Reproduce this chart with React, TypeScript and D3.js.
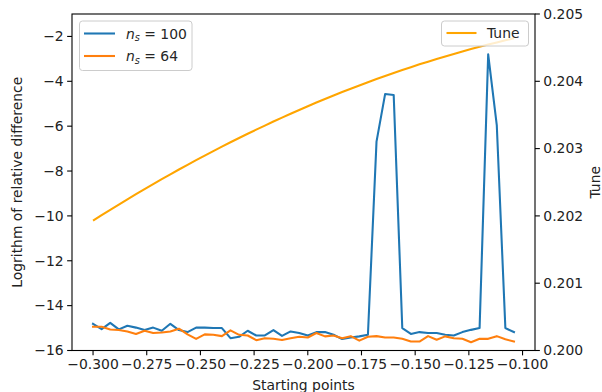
import React from "react";
import * as d3 from "d3";

const startPoints: number[] = d3.range(50).map((k) => -0.3 + 0.004 * k);

const ns100: number[] = [
  -14.81, -15.05, -14.77, -15.06, -14.9, -14.98, -15.09, -14.98, -15.12, -14.81,
  -15.09, -15.18, -14.98, -14.98, -15.0, -15.0, -15.45, -15.39, -15.12, -15.33,
  -15.33, -15.09, -15.35, -15.15, -15.22, -15.33, -15.18, -15.18, -15.3, -15.49,
  -15.42, -15.37, -15.3, -6.69, -4.57, -4.61, -15.0, -15.26, -15.18, -15.22,
  -15.22, -15.3, -15.33, -15.18, -15.08, -15.0, -2.8, -5.95, -15.0, -15.18,
];

const ns64: number[] = [
  -14.94, -14.94, -15.06, -15.09, -15.15, -15.26, -15.12, -15.22, -15.2, -15.15,
  -15.03, -15.28, -15.48, -15.28, -15.3, -15.36, -15.1, -15.3, -15.33, -15.54,
  -15.45, -15.48, -15.53, -15.45, -15.39, -15.42, -15.22, -15.37, -15.33, -15.45,
  -15.36, -15.56, -15.39, -15.36, -15.42, -15.42, -15.48, -15.6, -15.6, -15.36,
  -15.52, -15.37, -15.45, -15.48, -15.63, -15.48, -15.48, -15.36, -15.5, -15.6,
];

const tune: number[] = [
  0.20193, 0.202011, 0.20209, 0.202169, 0.202246, 0.202323, 0.202398, 0.202473, 0.202546, 0.202618,
  0.202689, 0.202759, 0.202828, 0.202896, 0.202963, 0.203029, 0.203094, 0.203158, 0.20322, 0.203282,
  0.203342, 0.203402, 0.20346, 0.203518, 0.203574, 0.203629, 0.203684, 0.203737, 0.203789, 0.20384,
  0.20389, 0.203939, 0.203987, 0.204034, 0.204079, 0.204124, 0.204168, 0.20421, 0.204252, 0.204292,
  0.204332, 0.20437, 0.204407, 0.204444, 0.204479, 0.204513, 0.204546, 0.204578, 0.204609, 0.204639,
];

const xTicks: number[] = [-0.3, -0.275, -0.25, -0.225, -0.2, -0.175, -0.15, -0.125, -0.1];
const yLeftTicks: number[] = [-16, -14, -12, -10, -8, -6, -4, -2];
const yRightTicks: number[] = [0.2, 0.201, 0.202, 0.203, 0.204, 0.205];

const W = 602;
const H = 392;
const L = 72;
const R = 535;
const T = 14;
const B = 350.5;
const FONT = "DejaVu Sans, sans-serif";
const FS = 13.9;
const TICK = 4.86;

const fmtMinus = (s: string) => s.replace("-", "\u2212");

export default function App() {
  const x = d3.scaleLinear().domain([-0.3098, -0.0942]).range([L, R]);
  const yL = d3.scaleLinear().domain([-16, -1]).range([B, T]);
  const yR = d3.scaleLinear().domain([0.2, 0.205]).range([B, T]);

  const lineL = (vals: number[]) =>
    d3
      .line<number>()
      .x((_, i) => x(startPoints[i]))
      .y((d) => yL(d))(vals) as string;
  const lineR = d3
    .line<number>()
    .x((_, i) => x(startPoints[i]))
    .y((d) => yR(d))(tune) as string;

  const nsLabel = (v: string) => (
    <>
      <tspan fontStyle="italic">n</tspan>
      <tspan fontStyle="italic" fontSize={FS * 0.7} dy={2.5}>s</tspan>
      <tspan dy={-2.5}>{" = " + v}</tspan>
    </>
  );

  return (
    <svg
      width={W}
      height={H}
      style={{ position: "absolute", left: 0, top: 0, background: "white" }}
      fontFamily={FONT}
      fontSize={FS}
    >
      <rect x={0} y={0} width={W} height={H} fill="white" />
      <defs>
        <clipPath id="plot">
          <rect x={L} y={T} width={R - L} height={B - T} />
        </clipPath>
      </defs>
      <g clipPath="url(#plot)">
        <path d={lineL(ns100)} fill="none" stroke="#1f77b4" strokeWidth={2.08} strokeLinejoin="round" strokeLinecap="square" />
        <path d={lineL(ns64)} fill="none" stroke="#ff7f0e" strokeWidth={2.08} strokeLinejoin="round" strokeLinecap="square" />
      </g>
      {/* left legend */}
      <g>
        <rect x={79.5} y={21} width={112.5} height={49.5} rx={3} fill="white" fillOpacity={0.8} stroke="#cccccc" strokeWidth={1} />
        <line x1={84} x2={115} y1={33.5} y2={33.5} stroke="#1f77b4" strokeWidth={2.08} />
        <line x1={84} x2={115} y1={56} y2={56} stroke="#ff7f0e" strokeWidth={2.08} />
        <text x={126} y={38.5} fill="#262626">{nsLabel("100")}</text>
        <text x={126} y={61} fill="#262626">{nsLabel("64")}</text>
      </g>
      <g clipPath="url(#plot)">
        <path d={lineR} fill="none" stroke="#ffa500" strokeWidth={2.08} strokeLinejoin="round" />
      </g>
      {/* right legend */}
      <g>
        <rect x={441.5} y={21} width={87} height={25} rx={3} fill="white" fillOpacity={0.8} stroke="#cccccc" strokeWidth={1} />
        <line x1={446.5} x2={476.5} y1={33} y2={33} stroke="#ffa500" strokeWidth={2.08} />
        <text x={487} y={38} fill="#262626">Tune</text>
      </g>
      {/* spines */}
      <rect x={L} y={T} width={R - L} height={B - T} fill="none" stroke="black" strokeWidth={1.1} />
      {/* x ticks */}
      {xTicks.map((t) => (
        <g key={"x" + t}>
          <line x1={x(t)} x2={x(t)} y1={B} y2={B + TICK} stroke="black" strokeWidth={1.1} />
          <text x={x(t)} y={B + TICK + 3.5 + 10.6} textAnchor="middle" fill="#222">
            {fmtMinus(d3.format(".3f")(t))}
          </text>
        </g>
      ))}
      {yLeftTicks.map((t) => (
        <g key={"yl" + t}>
          <line x1={L - TICK} x2={L} y1={yL(t)} y2={yL(t)} stroke="black" strokeWidth={1.1} />
          <text x={L - TICK - 3.5} y={yL(t)} dy="0.35em" textAnchor="end" fill="#222">
            {fmtMinus(String(t))}
          </text>
        </g>
      ))}
      {yRightTicks.map((t) => (
        <g key={"yr" + t}>
          <line x1={R} x2={R + TICK} y1={yR(t)} y2={yR(t)} stroke="black" strokeWidth={1.1} />
          <text x={R + TICK + 3.5} y={yR(t)} dy="0.35em" textAnchor="start" fill="#222">
            {d3.format(".3f")(t)}
          </text>
        </g>
      ))}
      <text x={(L + R) / 2} y={390} textAnchor="middle" fill="#222">Starting points</text>
      <text transform={`translate(22, ${(T + B) / 2}) rotate(-90)`} textAnchor="middle" fill="#222">
        Logrithm of relative difference
      </text>
      <text transform={`translate(600, ${(T + B) / 2}) rotate(-90)`} textAnchor="middle" fill="#222">
        Tune
      </text>
    </svg>
  );
}
